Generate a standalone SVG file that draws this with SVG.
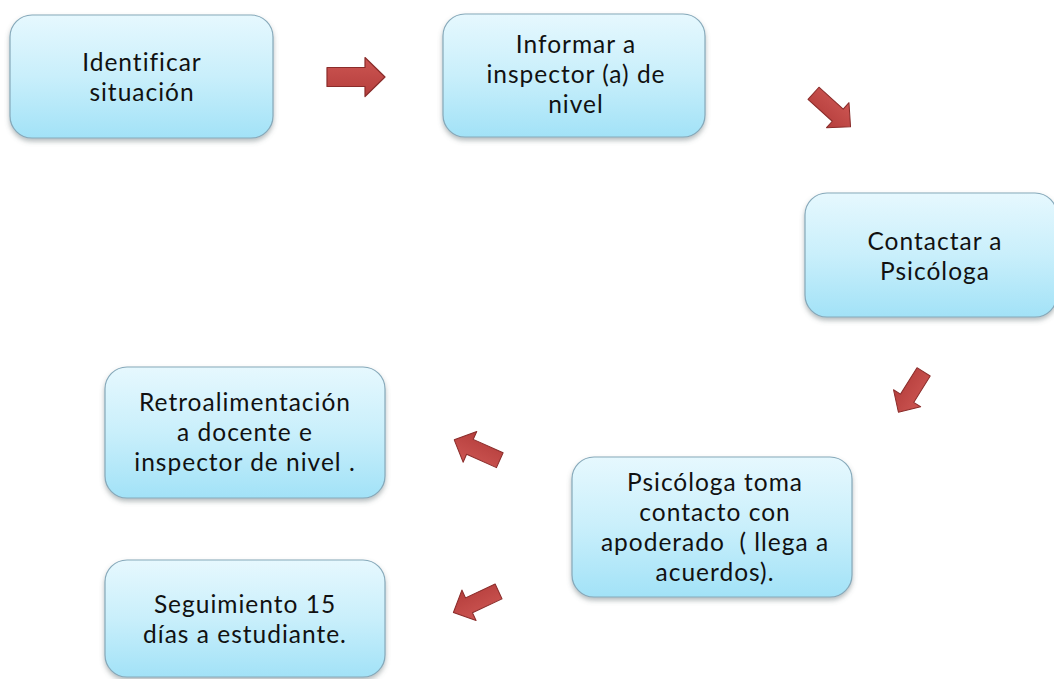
<svg xmlns="http://www.w3.org/2000/svg" width="1054" height="679" viewBox="0 0 1054 679">
  <defs>
    <linearGradient id="boxFill" x1="0" y1="0" x2="0" y2="1">
      <stop offset="0" stop-color="#e6f8fe"/>
      <stop offset="0.5" stop-color="#c9effb"/>
      <stop offset="1" stop-color="#a2e2f7"/>
    </linearGradient>
    <linearGradient id="arrowFill" x1="0" y1="0" x2="0" y2="1">
      <stop offset="0" stop-color="#cc5552"/>
      <stop offset="1" stop-color="#b53e3c"/>
    </linearGradient>
    <filter id="shadow" x="-10%" y="-10%" width="120%" height="130%">
      <feDropShadow dx="0" dy="3" stdDeviation="2.5" flood-color="#5a6a70" flood-opacity="0.45"/>
    </filter>
    <path id="arrow" d="M-29,-9.5 L9,-9.5 L9,-19.5 L29,0 L9,19.5 L9,9.5 L-29,9.5 Z"/>
  </defs>
  <style>
    .box { fill: url(#boxFill); stroke: #86a9ba; stroke-width: 1.2; filter: url(#shadow); }
    .lbl { font-family: Lato, "Open Sans", "Liberation Sans", sans-serif; font-size: 24.5px; letter-spacing: 1px; fill: #111111; text-anchor: middle; }
    .arr { fill: url(#arrowFill); stroke: #8a2c2a; stroke-width: 1.2; stroke-linejoin: round; }
  </style>
  <rect width="1054" height="679" fill="#ffffff"/>

  <g id="connectors">
    <use href="#arrow" class="arr" transform="translate(356,77)"/>
    <use href="#arrow" class="arr" transform="translate(832,110) rotate(42) scale(0.86)"/>
    <use href="#arrow" class="arr" transform="translate(911,392) rotate(122) scale(0.82)"/>
    <use href="#arrow" class="arr" transform="translate(477,450) rotate(-156) scale(0.86)"/>
    <use href="#arrow" class="arr" transform="translate(476,602) rotate(155) scale(0.86)"/>
  </g>

  <g id="n1">
    <rect class="box" x="10" y="15" width="263" height="123" rx="22"/>
    <text class="lbl"><tspan x="142" y="71">Identificar</tspan><tspan x="142" y="101">situación</tspan></text>
  </g>
  <g id="n2">
    <rect class="box" x="443" y="14" width="262" height="123" rx="22"/>
    <text class="lbl"><tspan x="576" y="53">Informar a</tspan><tspan x="576" y="83">inspector (a) de</tspan><tspan x="576" y="113">nivel</tspan></text>
  </g>
  <g id="n3">
    <rect class="box" x="805" y="193" width="252" height="124" rx="22"/>
    <text class="lbl"><tspan x="935" y="250">Contactar a</tspan><tspan x="935" y="280">Psicóloga</tspan></text>
  </g>
  <g id="n4">
    <rect class="box" x="572" y="457" width="280" height="140" rx="22"/>
    <text class="lbl" xml:space="preserve"><tspan x="715" y="491">Psicóloga toma</tspan><tspan x="715" y="521">contacto con</tspan><tspan x="715" y="551">apoderado  ( llega a</tspan><tspan x="715" y="581">acuerdos).</tspan></text>
  </g>
  <g id="n5">
    <rect class="box" x="105" y="367" width="280" height="131" rx="22"/>
    <text class="lbl"><tspan x="245" y="411">Retroalimentación</tspan><tspan x="245" y="441">a docente e</tspan><tspan x="245" y="471">inspector de nivel .</tspan></text>
  </g>
  <g id="n6">
    <rect class="box" x="105" y="560" width="280" height="117" rx="22"/>
    <text class="lbl"><tspan x="245" y="613">Seguimiento 15</tspan><tspan x="245" y="643">días a estudiante.</tspan></text>
  </g>
</svg>
